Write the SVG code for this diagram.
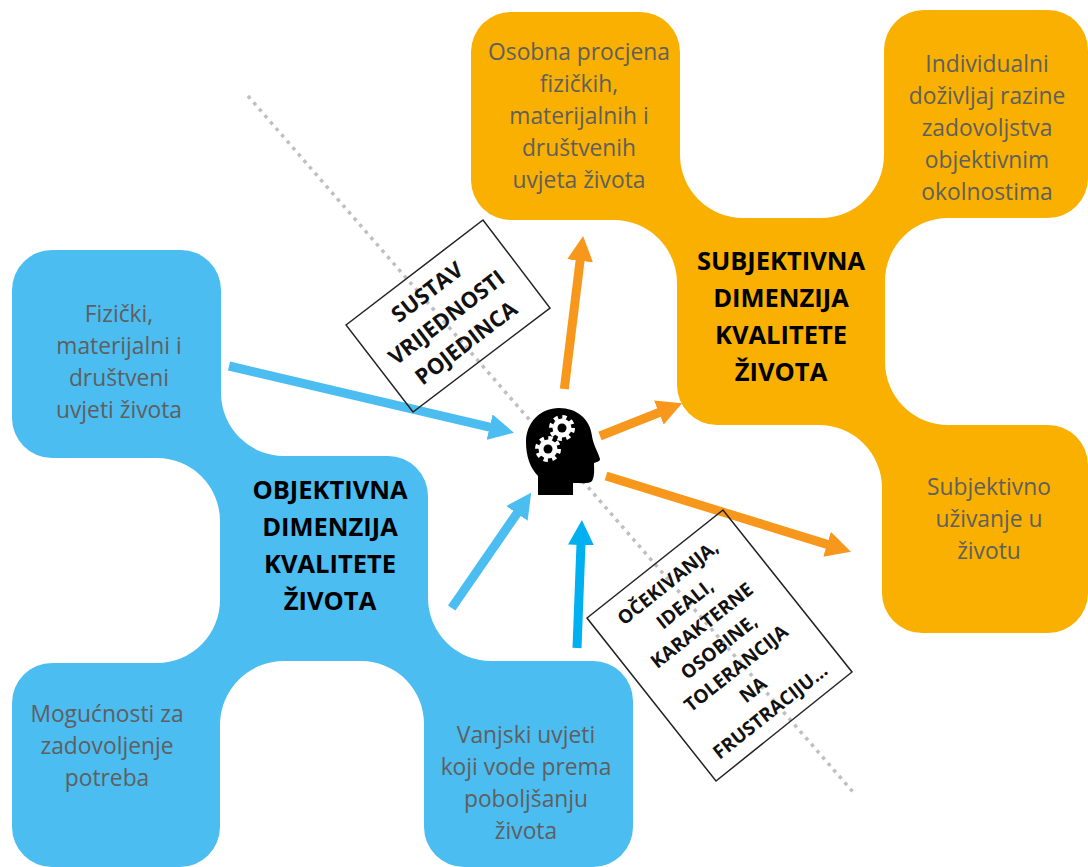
<svg xmlns="http://www.w3.org/2000/svg" width="1088" height="867" viewBox="0 0 1088 867">
<style>
.t{font-family:"Open Sans","Liberation Sans",sans-serif;font-size:22.8px;fill:#5f5f5f;text-anchor:middle}
.h{font-family:"Open Sans","Liberation Sans",sans-serif;font-size:25.5px;font-weight:700;fill:#000;text-anchor:middle}
.b{font-family:"Open Sans","Liberation Sans",sans-serif;font-size:22px;font-weight:700;fill:#111;text-anchor:middle}
.c{font-family:"Open Sans","Liberation Sans",sans-serif;font-size:19px;font-weight:700;fill:#111;text-anchor:middle}
.box{fill:none;stroke:#222;stroke-width:1.5}
.ab{fill:none;stroke:#4bbdf0;stroke-width:9}
.ac{fill:none;stroke:#00b0f0;stroke-width:9}
.ao{fill:none;stroke:#f7981d;stroke-width:9}
</style>
<defs>
<marker id="mb" markerUnits="userSpaceOnUse" markerWidth="26" markerHeight="26" refX="1" refY="13" orient="auto"><path d="M0,0L25,13L0,26z" fill="#4bbdf0"/></marker>
<marker id="mc" markerUnits="userSpaceOnUse" markerWidth="26" markerHeight="26" refX="1" refY="13" orient="auto"><path d="M0,0L25,13L0,26z" fill="#00b0f0"/></marker>
<marker id="mo" markerUnits="userSpaceOnUse" markerWidth="26" markerHeight="26" refX="1" refY="13" orient="auto"><path d="M0,0L25,13L0,26z" fill="#f7981d"/></marker>
</defs>
<rect width="1088" height="867" fill="#fff"/>
<path d="M248,96L853,792" fill="none" stroke="#bfbfbf" stroke-width="3.5" stroke-dasharray="3.5 5"/>
<g id="objektivna">
<path d="M52,250H181A40,40 0 0 1 221,290V393A63,63 0 0 0 284,456H388A40,40 0 0 1 428,496V598A63,63 0 0 0 491,661H593A40,40 0 0 1 633,701V827A40,40 0 0 1 593,867H464A40,40 0 0 1 424,827V725A63,63 0 0 0 361,661H284A64,64 0 0 0 220,725V827A40,40 0 0 1 180,867H52A40,40 0 0 1 12,827V703A40,40 0 0 1 52,663H157A63,63 0 0 0 220,600V521A63,63 0 0 0 157,458H52A40,40 0 0 1 12,418V290A40,40 0 0 1 52,250Z" fill="#4bbdf0"/>
<text class="t" x="119" y="322">Fizički,</text>
<text class="t" x="119" y="354">materijalni i</text>
<text class="t" x="119" y="386">društveni</text>
<text class="t" x="119" y="418">uvjeti života</text>
<text class="h" x="330" y="499">OBJEKTIVNA</text>
<text class="h" x="330" y="536">DIMENZIJA</text>
<text class="h" x="330" y="573">KVALITETE</text>
<text class="h" x="330" y="610">ŽIVOTA</text>
<text class="t" x="107" y="722">Mogućnosti za</text>
<text class="t" x="107" y="754">zadovoljenje</text>
<text class="t" x="107" y="786">potreba</text>
<text class="t" x="526" y="743">Vanjski uvjeti</text>
<text class="t" x="526" y="775">koji vode prema</text>
<text class="t" x="526" y="807">poboljšanju</text>
<text class="t" x="526" y="839">života</text>
</g>
<g id="subjektivna">
<path d="M512,12H640A40,40 0 0 1 680,52V155A63,63 0 0 0 743,218H821A63,63 0 0 0 884,155V50A40,40 0 0 1 924,10H1048A40,40 0 0 1 1088,50V178A40,40 0 0 1 1048,218H948A63,63 0 0 0 885,281V362A63,63 0 0 0 948,425H1048A40,40 0 0 1 1088,465V593A40,40 0 0 1 1048,633H922A40,40 0 0 1 882,593V488A63,63 0 0 0 819,425H717A40,40 0 0 1 677,385V283A63,63 0 0 0 614,220H512A40,40 0 0 1 471,180V52A40,40 0 0 1 512,12Z" fill="#f9b000"/>
<text class="t" x="579" y="60">Osobna procjena</text>
<text class="t" x="579" y="92">fizičkih,</text>
<text class="t" x="579" y="124">materijalnih i</text>
<text class="t" x="579" y="156">društvenih</text>
<text class="t" x="579" y="188">uvjeta života</text>
<text class="t" x="987" y="72">Individualni</text>
<text class="t" x="987" y="104">doživljaj razine</text>
<text class="t" x="987" y="136">zadovoljstva</text>
<text class="t" x="987" y="168">objektivnim</text>
<text class="t" x="987" y="200">okolnostima</text>
<text class="h" x="781" y="270">SUBJEKTIVNA</text>
<text class="h" x="781" y="307">DIMENZIJA</text>
<text class="h" x="781" y="344">KVALITETE</text>
<text class="h" x="781" y="381">ŽIVOTA</text>
<text class="t" x="989" y="495">Subjektivno</text>
<text class="t" x="989" y="527">uživanje u</text>
<text class="t" x="989" y="559">životu</text>
</g>
<g id="connectors">
<path class="ab" marker-end="url(#mb)" d="M229,366L490.6,427.3"/>
<path class="ab" marker-end="url(#mb)" d="M451.7,608L517.5,512.6"/>
<path class="ac" marker-end="url(#mc)" d="M577,648L581,544"/>
<path class="ao" marker-end="url(#mo)" d="M564.3,389L580.2,259.8"/>
<path class="ao" marker-end="url(#mo)" d="M600,436L659.8,412.2"/>
<path class="ao" marker-end="url(#mo)" d="M606,476L828,544.6"/>
</g>
<g id="glava">
<path d="M538,495V476C530,468 526,456 526,442C526,422 541,408 559,408C577,408 590,419 592,436C593,444 598,452 600,459C600,462 596,462 594,463C594,468 595,476 592,481C590,484 582,483 573,483V495Z" fill="#000"/>
<g fill="#fff">
<circle cx="562" cy="428" r="9.5"/><circle cx="562" cy="428" r="11" fill="none" stroke="#fff" stroke-width="4" stroke-dasharray="4.3 4.34"/>
<circle cx="548" cy="449" r="9.5"/><circle cx="548" cy="449" r="11" fill="none" stroke="#fff" stroke-width="4" stroke-dasharray="4.3 4.34"/>
</g>
<circle cx="562" cy="428" r="4.5" fill="#000"/><circle cx="548" cy="449" r="4.5" fill="#000"/>
</g>
<g id="sustav">
<path class="box" d="M346,325L483,220L550,308L413,412Z"/>
<g transform="translate(447,318) rotate(-37.5)">
<text class="b" x="0" y="-25">SUSTAV</text>
<text class="b" x="0" y="7">VRIJEDNOSTI</text>
<text class="b" x="0" y="39">POJEDINCA</text>
</g>
</g>
<g id="ocekivanja">
<path class="box" d="M587,618L723,510L852,672L716,781Z"/>
<g transform="translate(719,647) rotate(-38.5)">
<text class="c" x="0" y="-75.7">OČEKIVANJA,</text>
<text class="c" x="0" y="-48.3">IDEALI,</text>
<text class="c" x="0" y="-20.9">KARAKTERNE</text>
<text class="c" x="0" y="6.5">OSOBINE,</text>
<text class="c" x="0" y="33.9">TOLERANCIJA</text>
<text class="c" x="0" y="61.3">NA</text>
<text class="c" x="0" y="88.7">FRUSTRACIJU...</text>
</g>
</g>
</svg>
